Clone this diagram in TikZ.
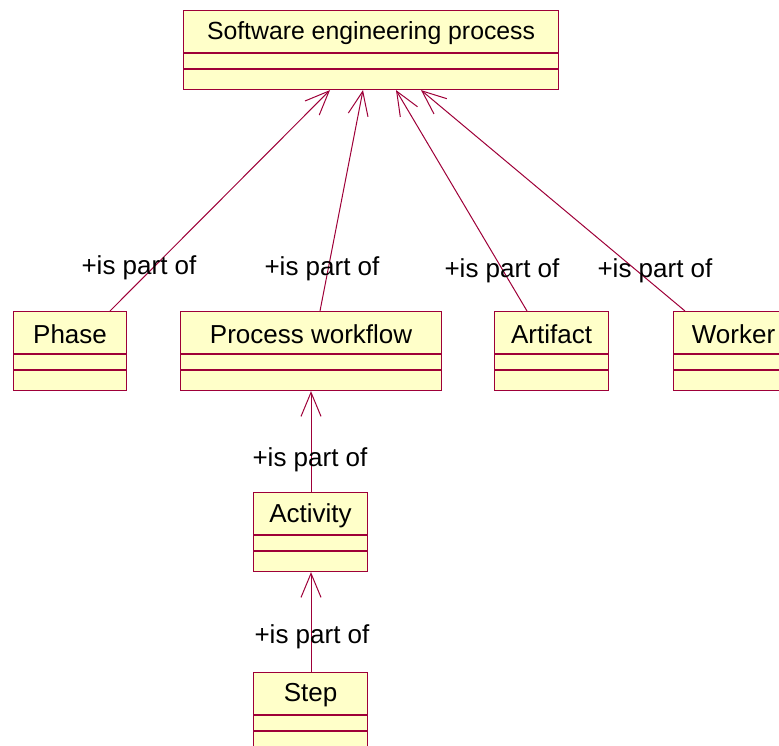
\documentclass[tikz,border=0pt]{standalone}
\usepackage{fontspec}
\setmainfont{Liberation Sans}
\usetikzlibrary{arrows.meta,calc}

\definecolor{classfill}{HTML}{FFFFC9}
\definecolor{classedge}{HTML}{9E0038}

\tikzset{
  classbox/.style={draw=classedge, fill=classfill, line width=1.1pt,
    rectangle, inner sep=0pt, minimum height=79pt},
  classline/.style={draw=classedge, line width=1.1pt},
  classname/.style={text=black, inner sep=0pt},
  rolelabel/.style={font=\fontsize{26}{30}\selectfont, text=black, inner sep=0pt},
  partof/.style={draw=classedge, line width=1pt,
    -{Straight Barb[length=24pt, width=20pt, line width=1pt]}},
}

% UML class with name compartment and two empty compartments
% #1 node name, #2 left x, #3 top y, #4 width, #5 class name, #6 name font size
\newcommand\umlclass[6]{%
  \node[classbox, minimum width=#4pt, anchor=north west] (#1) at (#2,#3) {};
  \node[classname, font=\fontsize{#6}{#6}\selectfont] (#1-name)
    at ($(#1.north)+(0,-23.5pt)$) {#5};
  \draw[classline] ($(#1.north west)+(0,-43pt)$) -- ($(#1.north east)+(0,-43pt)$);
  \draw[classline] ($(#1.north west)+(0,-59pt)$) -- ($(#1.north east)+(0,-59pt)$);
}

\begin{document}
\begin{tikzpicture}[x=1pt, y=-1pt]
  \clip (0,0) rectangle (779,746);
  \useasboundingbox (0,0) rectangle (779,746);

  \umlclass{sep}{183}{10}{375}{Software engineering process}{24.8}
  \umlclass{phase}{13}{311}{113}{Phase}{26}
  \umlclass{workflow}{180}{311}{261}{Process workflow}{26}
  \umlclass{artifact}{494}{311}{114}{Artifact}{26}
  \umlclass{worker}{673}{311}{120}{Worker}{26}
  \umlclass{activity}{253}{492}{114}{Activity}{26}
  \umlclass{step}{253}{672}{114}{Step}{26}

  % aggregation links: part -> whole
  \draw[partof] ($(phase.north west)+(97pt,0)$) -- ($(sep.south west)+(147pt,0)$);
  \draw[partof] ($(workflow.north west)+(140pt,0)$) -- ($(sep.south west)+(180pt,0)$);
  \draw[partof] ($(artifact.north west)+(33pt,0)$) -- ($(sep.south west)+(213pt,0)$);
  \draw[partof] ($(worker.north west)+(12pt,0)$) -- ($(sep.south west)+(238pt,0)$);
  \draw[partof] ($(activity.north west)+(58pt,0)$) -- ($(workflow.south west)+(131pt,0)$);
  \draw[partof] ($(step.north west)+(58pt,0)$) -- ($(activity.south west)+(58pt,0)$);

  % role names
  \node[rolelabel] (r1) at (139,267.5) {+is part of};
  \node[rolelabel] (r2) at (322,268.5) {+is part of};
  \node[rolelabel] (r3) at (502,270.5) {+is part of};
  \node[rolelabel] (r4) at (655,270.5) {+is part of};
  \node[rolelabel] (r5) at (310,459.5) {+is part of};
  \node[rolelabel] (r6) at (312,636.5) {+is part of};
\end{tikzpicture}
\end{document}
